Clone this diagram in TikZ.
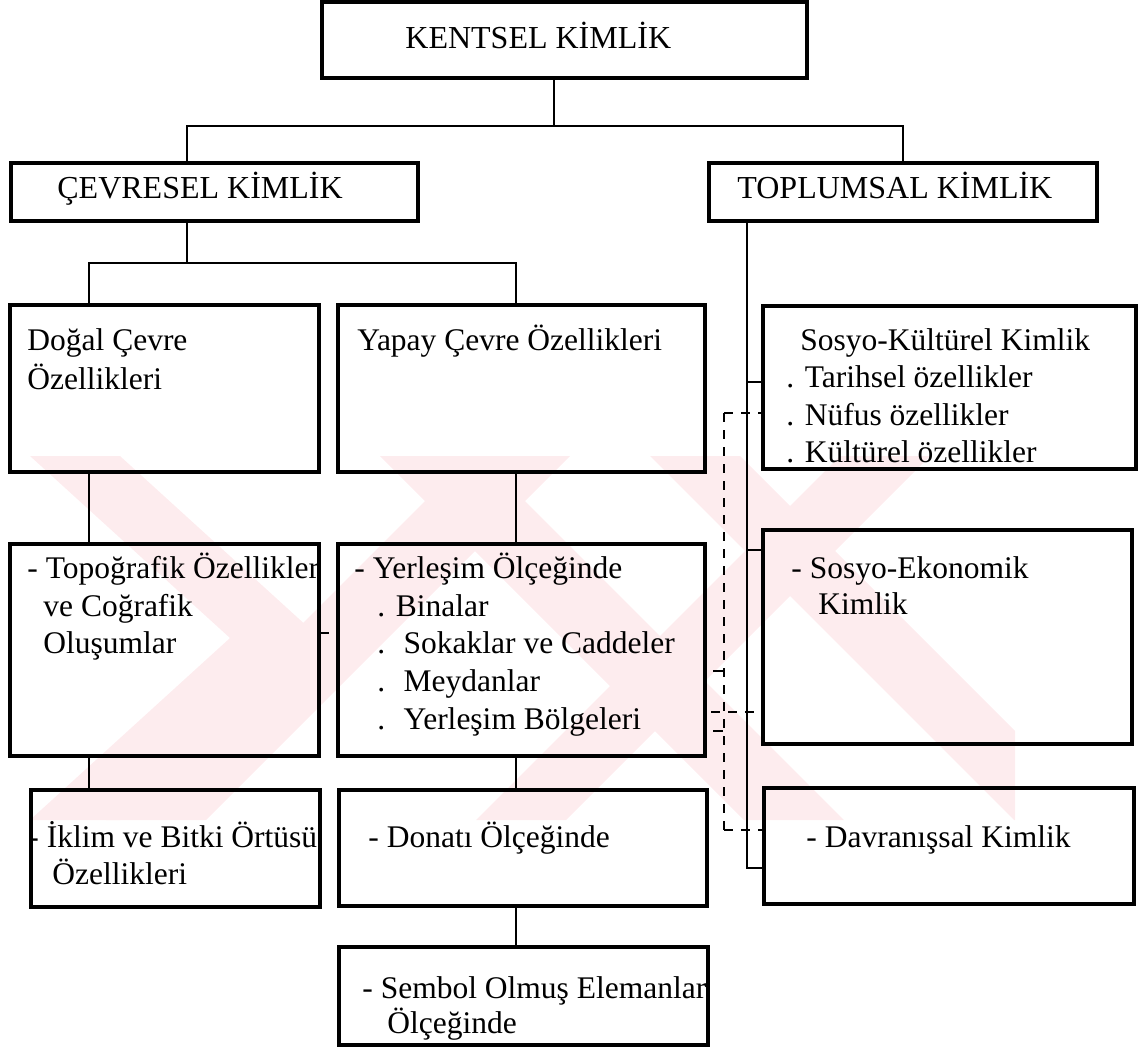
\documentclass[tikz,border=0pt]{standalone}
\usepackage{fontspec}
\setmainfont{Liberation Serif}
\usetikzlibrary{fit}
\begin{document}
\begin{tikzpicture}[x=0.5pt,y=-0.5pt,
  box/.style={draw, line width=1.7pt, inner sep=0pt},
  conn/.style={line width=1.4pt},
  thinline/.style={line width=0.7pt},
  dsh/.style={line width=0.7pt, dash pattern=on 4.5pt off 4pt},
  txt/.style={inner sep=0pt, anchor=base west, font=\fontsize{15.75}{19}\selectfont},
  hdr/.style={inner sep=0pt, anchor=base west, font=\fontsize{16}{19}\selectfont},
  wm/.style={fill={rgb,255:red,253;green,236;blue,238}, draw=none}
]
\useasboundingbox (0,0) rectangle (1138,1050);

% watermark
\begin{scope}
\clip (0,456) rectangle (1015,820);
\fill[wm] (30,456) -- (120,456) -- (320,638) -- (120,820) -- (30,820) -- (230,638) -- cycle;
\fill[wm] (470,456) -- (570,456) -- (206,820) -- (106,820) -- cycle;
\fill[wm] (380,456) -- (480,456) -- (844,820) -- (744,820) -- cycle;
\fill[wm] (650,456) -- (740,456) -- (1104,820) -- (1014,820) -- cycle;
\fill[wm] (840,456) -- (930,456) -- (566,820) -- (476,820) -- cycle;
\end{scope}

% boxes
\node[box, fit={(322,2) (807,78)}] (kent) {};
\node[box, fit={(11,163) (418,221)}] (cev) {};
\node[box, fit={(709,163) (1097,221)}] (top) {};
\node[box, fit={(10,305) (319,472)}] (dogal) {};
\node[box, fit={(338,305) (705,472)}] (yapay) {};
\node[box, fit={(763,306) (1136,469)}] (sk) {};
\node[box, fit={(10,544) (319,756)}] (topo) {};
\node[box, fit={(338,544) (705,756)}] (yer) {};
\node[box, fit={(763,530) (1132,744)}] (se) {};
\node[box, fit={(31,790) (320,907)}] (iklim) {};
\node[box, fit={(339,790) (707,906)}] (donati) {};
\node[box, fit={(764,788) (1134,904)}] (davr) {};
\node[box, fit={(339,947) (708,1045)}] (sembol) {};

% texts
\node[hdr] (t-kent) at (405,48) {KENTSEL KİMLİK};
\node[hdr] (t-cev) at (57,198) {ÇEVRESEL KİMLİK};
\node[hdr] (t-top) at (737,198) {TOPLUMSAL KİMLİK};

\node[txt] (t-dogal1) at (27,350) {Doğal Çevre};
\node[txt] (t-dogal2) at (27,389) {Özellikleri};
\node[txt] (t-yapay) at (357,350) {Yapay Çevre Özellikleri};
\node[txt] (t-sk1) at (800,350) {Sosyo-Kültürel Kimlik};
\node[txt] (t-sk2) at (786,387) {. Tarihsel özellikler};
\node[txt] (t-sk3) at (786,425) {. Nüfus özellikler};
\node[txt] (t-sk4) at (786,462) {. Kültürel özellikler};

\node[txt] (t-topo1) at (27,578) {- Topoğrafik Özellikler};
\node[txt] (t-topo2) at (43,616) {ve Coğrafik};
\node[txt] (t-topo3) at (43,653) {Oluşumlar};

\node[txt] (t-yer1) at (354,578) {- Yerleşim Ölçeğinde};
\node[txt] (t-yer2) at (377,616) {. Binalar};
\node[txt] (t-yer3) at (377,653) {.~ Sokaklar ve Caddeler};
\node[txt] (t-yer4) at (377,691) {.~ Meydanlar};
\node[txt] (t-yer5) at (377,729) {.~ Yerleşim Bölgeleri};

\node[txt] (t-se1) at (791,578) {- Sosyo-Ekonomik};
\node[txt] (t-se2) at (818,614) {Kimlik};

\node[txt] (t-ik1) at (28,847) {- İklim ve Bitki Örtüsü};
\node[txt] (t-ik2) at (52,884) {Özellikleri};
\node[txt] (t-don) at (368,847) {- Donatı Ölçeğinde};
\node[txt] (t-dav) at (806,847) {- Davranışsal Kimlik};
\node[txt] (t-sem1) at (362,998) {- Sembol Olmuş Elemanlar};
\node[txt] (t-sem2) at (387,1033) {Ölçeğinde};

% connectors
\coordinate (a1) at (554,126);
\coordinate (a2) at (187,126);
\coordinate (a3) at (903,126);
\draw[conn] (kent.south -| a1) -- (a1);
\draw[conn] (cev.north -| a2) |- (a3) -- (top.north -| a3);

\coordinate (b1) at (187,263);
\coordinate (b2) at (89,263);
\coordinate (b3) at (516,263);
\draw[conn] (cev.south -| b1) -- (b1);
\draw[conn] (dogal.north -| b2) |- (b3) -- (yapay.north -| b3);
\draw[conn] (dogal.south -| b2) -- (topo.north -| b2);
\draw[conn] (topo.south -| b2) -- (iklim.north -| b2);
\draw[conn] (yapay.south -| b3) -- (yer.north -| b3);
\draw[conn] (yer.south -| b3) -- (donati.north -| b3);
\draw[conn] (donati.south -| b3) -- (sembol.north -| b3);

% right spine
\coordinate (c0) at (747,868);
\coordinate (c1) at (766,868);
\coordinate (k1) at (747,382);
\coordinate (k2) at (747,550);
\draw[conn] (top.south -| c0) -- (c0) -- (c1);
\draw[conn] (k1) -- (sk.west |- k1);
\draw[conn] (k2) -- (se.west |- k2);

% dashed spine
\coordinate (d0) at (724,413);
\coordinate (d1) at (724,830);
\coordinate (d2) at (711,712);
\draw[dsh] (d0) -- (d1);
\draw[dsh] (d0) -- (sk.west |- d0);
\draw[dsh] (d2) -- (se.west |- d2);
\draw[dsh] (d1) -- (davr.west |- d1);
\draw[thinline] (713,671) -- (723,671);
\draw[thinline] (713,731) -- (723,731);

% small stub
\coordinate (s1) at (329,633);
\draw[thinline] (topo.east |- s1) -- (s1);
\end{tikzpicture}
\end{document}
